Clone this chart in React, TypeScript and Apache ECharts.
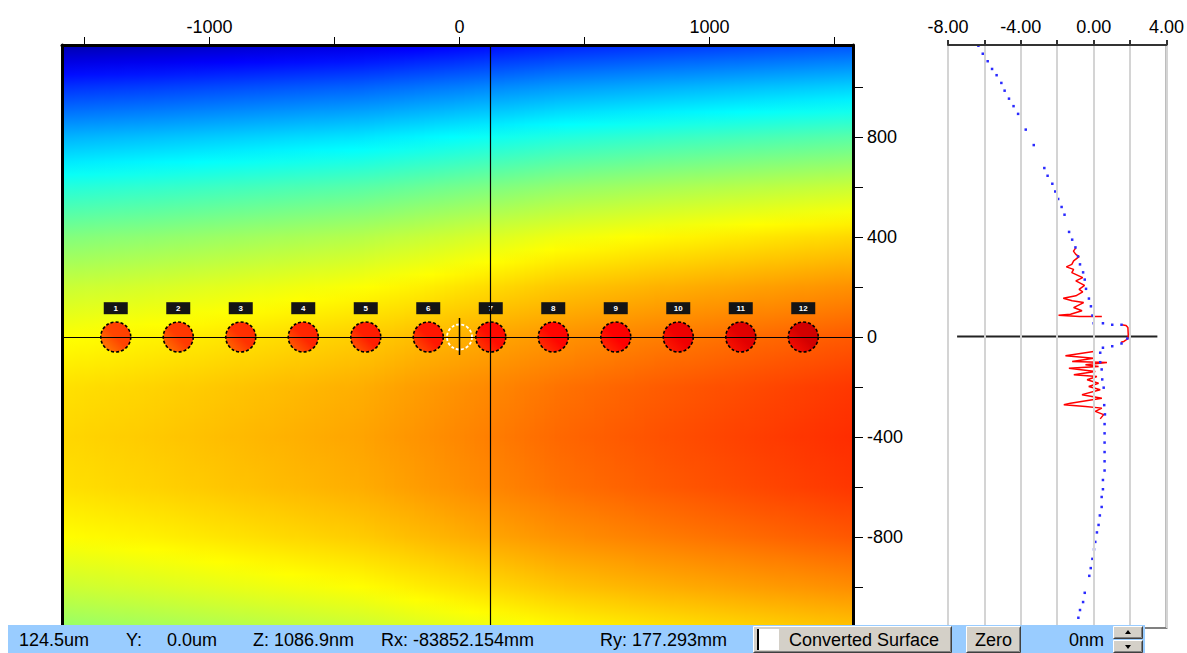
import React, { useEffect, useRef } from 'react';
import * as echarts from 'echarts';

// ---------- data ----------
const xNodes = [-1600, -1200, -800, -400, 0, 400, 800, 1200, 1600];
const yNodes = [1200, 1000, 800, 600, 400, 200, 0, -200, -400, -600, -800, -1000, -1200];
// surface height (same units as the profile plot), one row per yNode
const surfaceRows = [
  [-7.77, -7.6, -7.4, -7.2, -6.88, -6.55, -6.32, -6.12, -5.93],
  [-6.06, -5.89, -5.69, -5.49, -5.17, -4.84, -4.61, -4.41, -4.22],
  [-4.57, -4.4, -4.2, -4.0, -3.68, -3.35, -3.12, -2.92, -2.73],
  [-3.32, -3.15, -2.95, -2.75, -2.43, -2.1, -1.87, -1.67, -1.48],
  [-2.29, -2.12, -1.92, -1.72, -1.4, -1.07, -0.84, -0.64, -0.45],
  [-1.5, -1.33, -1.13, -0.93, -0.61, -0.28, -0.05, 0.15, 0.34],
  [-0.93, -0.76, -0.56, -0.36, -0.04, 0.29, 0.52, 0.72, 0.91],
  [-0.58, -0.41, -0.21, -0.01, 0.31, 0.64, 0.87, 1.07, 1.26],
  [-0.47, -0.3, -0.1, 0.1, 0.42, 0.75, 0.98, 1.18, 1.37],
  [-0.57, -0.4, -0.2, 0.0, 0.32, 0.65, 0.88, 1.08, 1.27],
  [-0.9, -0.74, -0.54, -0.34, -0.02, 0.31, 0.54, 0.74, 0.93],
  [-1.48, -1.3, -1.1, -0.9, -0.58, -0.25, -0.02, 0.18, 0.37],
  [-2.2, -2.03, -1.83, -1.63, -1.31, -0.98, -0.75, -0.55, -0.36],
];

const ballX = [-1375, -1125, -875, -625, -375, -125, 125, 375, 625, 875, 1125, 1375];
const ballZ = [1.1, 1.2, 1.3, 1.4, 1.5, 1.6, 1.8, 1.9, 2.0, 2.15, 2.3, 2.45];
const ballLabels = ['1', '2', '3', '4', '5', '6', '7', '8', '9', '10', '11', '12'];

const cursorX = 124.5;
const cursorY = 0;
const originPoint = [0, 0];
const originTick = [[0, 76], [0, -72]];

const xTicks = [-1500, -1000, -500, 0, 500, 1000, 1500];
const xLabels = [-1000, 0, 1000];
const yTicks = [-1000, -800, -600, -400, -200, 0, 200, 400, 600, 800, 1000];
const yLabels = [-800, -400, 0, 400, 800];
const profileLabels = [-8, -4, 0, 4];

// profile at cursor: [value, Y]
const blueProfile = [
  [-6.33, 1165], [-6.09, 1133], [-5.82, 1103], [-5.58, 1072], [-5.33, 1047], [-5.07, 1016],
  [-4.89, 985], [-4.65, 953], [-4.4, 923], [-4.15, 892], [-3.73, 829], [-3.29, 767],
  [-2.71, 675], [-2.53, 644], [-2.27, 612], [-2.11, 581], [-1.95, 551], [-1.76, 519],
  [-1.6, 488], [-1.35, 419], [-1.18, 388], [-1.0, 357], [-0.86, 321], [-0.75, 289],
  [-0.58, 257], [-0.49, 228], [-0.42, 191], [-0.26, 152], [-0.15, 121], [-0.07, 84],
  [0.0, 53], [0.51, 53], [1.02, 47], [1.53, 47], [1.85, -8], [1.53, -28], [1.02, -39],
  [0.51, -45], [0.36, -65], [0.36, -103], [0.44, -132], [0.47, -172], [0.55, -205],
  [0.58, -275], [0.62, -312], [0.6, -351], [0.6, -388], [0.6, -425], [0.6, -463],
  [0.6, -500], [0.6, -537], [0.51, -575], [0.51, -612], [0.44, -643], [0.44, -683],
  [0.34, -717], [0.27, -755], [0.18, -785], [0.09, -823], [0.02, -853], [-0.07, -891],
  [-0.16, -928], [-0.24, -959], [-0.49, -1027], [-0.58, -1064], [-0.75, -1096], [-0.84, -1127],
];
const redUpper = [
  [-0.98, 355], [-1.11, 342], [-0.98, 329], [-0.8, 320], [-1.1, 303], [-1.2, 289], [-1.5, 279],
  [-1.1, 269], [-1.2, 256], [-0.6, 236], [-0.98, 223], [-0.5, 205], [-0.8, 189], [-0.6, 179],
  [-0.98, 163], [-1.67, 153], [-1.18, 143], [-0.55, 136], [-1.1, 116], [-0.64, 103],
  [-1.27, 89], [-1.93, 85], [-0.78, 80], [0.45, 80],
];
const redPeak = [
  [1.53, 47], [1.78, 44], [1.88, 36], [1.9, 7], [1.88, -9], [1.66, -20], [1.5, -23],
];
const redLower = [
  [0.0, -60], [-1.55, -77], [0.0, -87], [-1.18, -100], [0.73, -104], [-0.45, -113],
  [0.27, -120], [-1.36, -127], [0.09, -140], [-1.09, -153], [0.18, -160], [-0.36, -173],
  [0.27, -187], [-0.27, -200], [0.36, -213], [-0.64, -233], [0.45, -247], [-1.27, -267],
  [-1.64, -273], [-0.45, -280], [0.45, -287], [0.09, -300], [0.55, -313], [0.36, -330],
];

const statusLabels = ['124.5um', 'Y:', '0.0um', 'Z: 1086.9nm', 'Rx: -83852.154mm', 'Ry: 177.293mm'];
const checkboxLabel = 'Converted Surface';
const zeroLabel = 'Zero';
const offsetLabel = '0nm';

// ---------- styling ----------
const FONT = '"Liberation Sans", Arial, sans-serif';
const cmap: [number, number[]][] = [
  [-8, [0, 0, 128]],
  [-6.6, [0, 0, 255]],
  [-3.7, [0, 255, 255]],
  [-2.3, [128, 255, 128]],
  [-0.9, [255, 255, 0]],
  [0.5, [255, 128, 0]],
  [1.5, [255, 30, 0]],
  [2.0, [255, 0, 0]],
  [3.0, [160, 0, 0]],
];
function colorOf(v: number): string {
  if (v <= cmap[0][0]) return `rgb(${cmap[0][1].join(',')})`;
  for (let k = 0; k < cmap.length - 1; k++) {
    const [a, ca] = cmap[k];
    const [b, cb] = cmap[k + 1];
    if (v <= b) {
      const t = (v - a) / (b - a);
      const c = ca.map((x, n) => Math.round(x + (cb[n] - x) * t));
      return `rgb(${c.join(',')})`;
    }
  }
  return `rgb(${cmap[cmap.length - 1][1].join(',')})`;
}

export default function App() {
  const ref = useRef<HTMLDivElement>(null);
  useEffect(() => {
    if (!ref.current) return;
    const chart = echarts.init(ref.current, undefined, { renderer: 'svg' });

    const surfaceRender = (params: any, api: any) => {
      const i = api.value(2);
      const cs = params.coordSys;
      const yTop = api.coord([0, yNodes[0]])[1];
      const yBot = api.coord([0, yNodes[yNodes.length - 1]])[1];
      const S = 20;
      const children: any[] = [];
      for (let s = 0; s < S; s++) {
        const tm = (s + 0.5) / S;
        const xa = xNodes[i] + (xNodes[i + 1] - xNodes[i]) * (s / S);
        const xb = xNodes[i] + (xNodes[i + 1] - xNodes[i]) * ((s + 1) / S);
        const pa = api.coord([xa, 0])[0];
        const pb = api.coord([xb, 0])[0];
        const stops: any[] = [];
        for (let j = 0; j < yNodes.length; j++) {
          const vj = surfaceRows[j][i] * (1 - tm) + surfaceRows[j][i + 1] * tm;
          const off = (api.coord([0, yNodes[j]])[1] - yTop) / (yBot - yTop);
          stops.push({ offset: off, color: colorOf(vj) });
          if (j < yNodes.length - 1) {
            const vn = surfaceRows[j + 1][i] * (1 - tm) + surfaceRows[j + 1][i + 1] * tm;
            const offn = (api.coord([0, yNodes[j + 1]])[1] - yTop) / (yBot - yTop);
            for (let q = 1; q < 4; q++) {
              const f = q / 4;
              stops.push({ offset: off + (offn - off) * f, color: colorOf(vj + (vn - vj) * f) });
            }
          }
        }
        const rect = echarts.graphic.clipRectByRect(
          { x: pa, y: yTop, width: pb - pa + 0.8, height: yBot - yTop },
          { x: cs.x, y: cs.y, width: cs.width, height: cs.height }
        );
        if (!rect) continue;
        children.push({
          type: 'rect',
          shape: rect,
          style: { fill: new echarts.graphic.LinearGradient(0, yTop, 0, yBot, stops, true) },
        });
      }
      return { type: 'group', children };
    };

    const bands = xNodes.slice(0, -1).map((x, i) => [x, xNodes[i + 1], i]);

    const btn = (x: number, y: number, w: number, h: number) => [
      { type: 'rect', shape: { x, y, width: w, height: h }, style: { fill: '#d4d0c8' }, z: 101 },
      { type: 'polyline', shape: { points: [[x + 0.5, y + h - 0.5], [x + 0.5, y + 0.5], [x + w - 0.5, y + 0.5]] }, style: { stroke: '#ffffff', lineWidth: 1, fill: null }, z: 102 },
      { type: 'polyline', shape: { points: [[x + 0.5, y + h - 0.5], [x + w - 0.5, y + h - 0.5], [x + w - 0.5, y + 0.5]] }, style: { stroke: '#404040', lineWidth: 1, fill: null }, z: 102 },
      { type: 'polyline', shape: { points: [[x + 1.5, y + h - 1.5], [x + w - 1.5, y + h - 1.5], [x + w - 1.5, y + 1.5]] }, style: { stroke: '#808080', lineWidth: 1, fill: null }, z: 102 },
    ];
    const txt = (s: string, x: number, y: number, align = 'left') => ({
      type: 'text', x, y, z: 103,
      style: { text: s, font: `18px ${FONT}`, fill: '#000', align, textAlign: align, verticalAlign: 'middle', textVerticalAlign: 'middle' },
    });
    const statusX = [19, 126, 167, 253, 381, 600];

    const option: any = {
      animation: false,
      backgroundColor: '#ffffff',
      grid: [
        { left: 62, top: 45, width: 791, height: 584 },
        { left: 948, top: 45, width: 220, height: 583, show: true, borderColor: '#808080', borderWidth: 2, backgroundColor: '#fff' },
      ],
      xAxis: [
        {
          gridIndex: 0, type: 'value', min: -1590, max: 1574, position: 'top', z: 10,
          axisLine: { show: true, onZero: false, lineStyle: { color: '#000', width: 3 } },
          axisTick: { show: true, customValues: xTicks, length: 8, lineStyle: { color: '#000', width: 1 } },
          axisLabel: { customValues: xLabels, formatter: (v: number) => String(v), color: '#000', fontSize: 18, fontFamily: FONT, margin: 9 },
          splitLine: { show: false },
        },
        {
          gridIndex: 1, type: 'value', min: -8, max: 4, interval: 2, position: 'top', z: 10,
          axisLine: { show: true, onZero: false, lineStyle: { color: '#333', width: 2 } },
          axisTick: { show: true, length: 5, lineStyle: { color: '#333', width: 2 } },
          axisLabel: { customValues: profileLabels, formatter: (v: number) => v.toFixed(2), color: '#000', fontSize: 18, fontFamily: FONT, margin: 9 },
          splitLine: { show: true, lineStyle: { color: '#d4d4d4', width: 2 } },
        },
      ],
      yAxis: [
        {
          gridIndex: 0, type: 'value', min: -1168, max: 1168, position: 'right', z: 10,
          axisLine: { show: true, onZero: false, lineStyle: { color: '#000', width: 3 } },
          axisTick: { show: true, customValues: yTicks, length: 10, lineStyle: { color: '#000', width: 1 } },
          axisLabel: { customValues: yLabels, formatter: (v: number) => String(v), color: '#000', fontSize: 18, fontFamily: FONT, margin: 14 },
          splitLine: { show: false },
        },
        {
          gridIndex: 0, type: 'value', min: -1168, max: 1168, position: 'left', z: 10,
          axisLine: { show: true, onZero: false, lineStyle: { color: '#000', width: 3 } },
          axisTick: { show: false }, axisLabel: { show: false }, splitLine: { show: false },
        },
        {
          gridIndex: 1, type: 'value', min: -1168, max: 1168,
          axisLine: { show: false }, axisTick: { show: false }, axisLabel: { show: false }, splitLine: { show: false },
        },
      ],
      series: [
        {
          type: 'custom', xAxisIndex: 0, yAxisIndex: 0, z: 1,
          renderItem: surfaceRender, data: bands, encode: { x: [0, 1] }, silent: true,
        },
        {
          type: 'scatter', xAxisIndex: 0, yAxisIndex: 0, z: 3,
          symbol: 'circle', symbolSize: 25,
          itemStyle: { color: 'rgba(0,0,0,0)', borderColor: '#ffffff', borderWidth: 1.8, borderType: [3, 2], opacity: 1 },
          data: [originPoint], silent: true,
        },
        {
          type: 'line', xAxisIndex: 0, yAxisIndex: 0, z: 4, symbol: 'none',
          lineStyle: { color: '#000', width: 1.5 }, data: originTick, silent: true,
        },
        {
          type: 'scatter', xAxisIndex: 0, yAxisIndex: 0, z: 3,
          symbol: 'circle', symbolSize: 30, silent: true,
          itemStyle: { opacity: 1 },
          data: ballX.map((x, k) => ({
            value: [x, 0],
            itemStyle: {
              opacity: 1,
              color: new echarts.graphic.LinearGradient(1, 0, 0, 1, [
                { offset: 0, color: colorOf(ballZ[k] + 0.1) },
                { offset: 0.5, color: colorOf(ballZ[k]) },
                { offset: 1, color: colorOf(ballZ[k] - 0.7) },
              ]),
              borderColor: '#000', borderWidth: 1.6, borderType: [3, 2],
            },
            label: { formatter: ballLabels[k] },
          })),
          label: {
            show: true, position: 'top', distance: 7, opacity: 1,
            backgroundColor: '#141414', color: '#fff', fontSize: 8, fontWeight: 'bold', fontFamily: FONT,
            width: 24, height: 12, lineHeight: 12, align: 'center', padding: 0,
          },
          markLine: {
            silent: true, symbol: ['none', 'none'], label: { show: false },
            lineStyle: { color: '#000', width: 1.2, type: 'solid', opacity: 1 },
            data: [{ xAxis: cursorX }, { yAxis: cursorY }],
          },
        },
        {
          type: 'line', xAxisIndex: 1, yAxisIndex: 2, symbol: 'none', z: 3,
          lineStyle: { color: '#222', width: 2 }, data: [[-7.5, cursorY], [3.5, cursorY]], silent: true,
        },
        {
          type: 'line', xAxisIndex: 1, yAxisIndex: 2, symbol: 'none', z: 4,
          lineStyle: { color: '#ff0000', width: 1.5 }, data: redUpper, silent: true,
        },
        {
          type: 'line', xAxisIndex: 1, yAxisIndex: 2, symbol: 'none', z: 4,
          lineStyle: { color: '#ff0000', width: 1.5 }, data: redPeak, silent: true,
        },
        {
          type: 'line', xAxisIndex: 1, yAxisIndex: 2, symbol: 'none', z: 4,
          lineStyle: { color: '#ff0000', width: 1.5 }, data: redLower, silent: true,
        },
        {
          type: 'scatter', xAxisIndex: 1, yAxisIndex: 2, z: 5, symbol: 'rect', symbolSize: 2.5,
          itemStyle: { color: '#2a2aff', opacity: 1 }, data: blueProfile, silent: true,
        },
      ],
      graphic: [
        { type: 'rect', shape: { x: 8, y: 625, width: 1137, height: 28 }, style: { fill: '#99ccff' }, z: 100 },
        ...statusLabels.map((s, k) => txt(s, statusX[k], 640)),
        ...btn(753, 626, 199, 27),
        { type: 'rect', shape: { x: 757, y: 629, width: 22, height: 21 }, style: { fill: '#ffffff' }, z: 103 },
        { type: 'line', shape: { x1: 758, y1: 629, x2: 758, y2: 650 }, style: { stroke: '#000', lineWidth: 2 }, z: 104 },
        txt(checkboxLabel, 789, 640),
        ...btn(966, 626, 55, 27),
        txt(zeroLabel, 993.5, 640, 'center'),
        txt(offsetLabel, 1104, 640, 'right'),
        ...btn(1113, 626, 30, 13),
        ...btn(1113, 640, 30, 13),
        { type: 'polygon', shape: { points: [[1128, 630], [1125, 634], [1131, 634]] }, style: { fill: '#000' }, z: 104 },
        { type: 'polygon', shape: { points: [[1128, 649], [1125, 645], [1131, 645]] }, style: { fill: '#000' }, z: 104 },
      ],
    };
    chart.setOption(option);
    return () => chart.dispose();
  }, []);
  return <div ref={ref} style={{ position: 'fixed', left: 0, top: 0, width: 1187, height: 653 }} />;
}
